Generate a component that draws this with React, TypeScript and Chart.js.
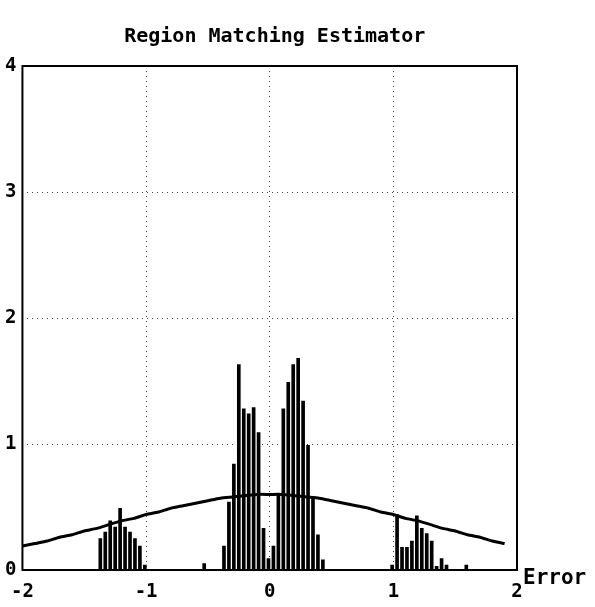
import React, { useEffect, useRef } from "react";
import { Chart, registerables } from "chart.js";

Chart.register(...registerables);

const TITLE = "Region Matching Estimator";
const X_LABEL = "Error";

const xTickValues = [-2, -1, 0, 1, 2];
const yTickValues = [0, 1, 2, 3, 4];

const curveX = [
  -2.0, -1.9, -1.8, -1.7, -1.6, -1.5, -1.4, -1.3, -1.2, -1.1, -1.0, -0.9, -0.8, -0.7, -0.6, -0.5, -0.4, -0.3, -0.2, -0.1,
  0.0, 0.1, 0.2, 0.3, 0.4, 0.5, 0.6, 0.7, 0.8, 0.9, 1.0, 1.1, 1.2, 1.3, 1.4, 1.5, 1.6, 1.7, 1.8, 1.9,
];
const curveY = [
  0.19, 0.21, 0.23, 0.26, 0.28, 0.31, 0.33, 0.36, 0.39, 0.41, 0.44, 0.46, 0.49, 0.51, 0.53, 0.55, 0.57, 0.58, 0.59, 0.6,
  0.6, 0.6, 0.59, 0.58, 0.57, 0.55, 0.53, 0.51, 0.49, 0.46, 0.44, 0.41, 0.39, 0.36, 0.33, 0.31, 0.28, 0.26, 0.23, 0.21,
];

const barX = [
  -1.37, -1.33, -1.29, -1.25, -1.21, -1.17, -1.13, -1.09, -1.05, -1.01,
  -0.53,
  -0.37, -0.33, -0.29, -0.25, -0.21, -0.17, -0.13, -0.09, -0.05, -0.01, 0.03, 0.07, 0.11, 0.15, 0.19, 0.23, 0.27, 0.31, 0.35, 0.39, 0.43,
  0.99, 1.03, 1.07, 1.11, 1.15, 1.19, 1.23, 1.27, 1.31, 1.35, 1.39, 1.43,
  1.59,
];
const barY = [
  0.25, 0.3, 0.39, 0.34, 0.49, 0.34, 0.3, 0.25, 0.19, 0.04,
  0.05,
  0.19, 0.54, 0.84, 1.63, 1.28, 1.24, 1.29, 1.09, 0.33, 0.09, 0.19, 0.6, 1.28, 1.49, 1.63, 1.68, 1.34, 0.99, 0.57, 0.28, 0.08,
  0.04, 0.44, 0.18, 0.18, 0.23, 0.43, 0.33, 0.29, 0.23, 0.03, 0.09, 0.04,
  0.04,
];

const FONT_FAMILY = '"DejaVu Sans Mono", monospace';

const framePlugin = {
  id: "frameAndText",
  afterDraw(chart: any) {
    const { ctx, chartArea } = chart;
    const { left, top, right, bottom } = chartArea;
    ctx.save();
    ctx.strokeStyle = "#000";
    ctx.lineWidth = 2;
    ctx.strokeRect(left, top, right - left, bottom - top);
    ctx.fillStyle = "#000";
    ctx.font = `bold 20px ${FONT_FAMILY}`;
    ctx.textAlign = "center";
    ctx.textBaseline = "alphabetic";
    ctx.fillText(TITLE, (left + right) / 2 + 5, top - 24);
    ctx.font = `bold 21px ${FONT_FAMILY}`;
    ctx.textAlign = "left";
    ctx.fillText(X_LABEL, right + 6, bottom + 14);
    ctx.restore();
  },
};

export default function App() {
  const canvasRef = useRef<HTMLCanvasElement | null>(null);

  useEffect(() => {
    if (!canvasRef.current) return;
    const chart = new Chart(canvasRef.current, {
      type: "bar",
      data: {
        datasets: [
          {
            type: "line",
            data: curveX.map((x, i) => ({ x, y: curveY[i] })),
            borderColor: "#000",
            borderWidth: 3,
            pointRadius: 0,
            tension: 0.2,
            fill: false,
            order: 0,
          } as any,
          {
            type: "bar",
            data: barX.map((x, i) => ({ x, y: barY[i] })),
            backgroundColor: "#000",
            borderWidth: 0,
            barThickness: 3,
            grouped: false,
            order: 1,
          } as any,
        ],
      },
      options: {
        animation: false,
        responsive: false,
        maintainAspectRatio: false,
        layout: { padding: { top: 66, right: 78, left: 0, bottom: 0 } },
        plugins: {
          legend: { display: false },
          title: { display: false },
          tooltip: { enabled: false },
        },
        scales: {
          x: {
            type: "linear",
            min: -2,
            max: 2,
            offset: false,
            afterBuildTicks: (scale: any) => {
              scale.ticks = xTickValues.map((v) => ({ value: v }));
            },
            afterFit: (scale: any) => {
              scale.height = 37;
            },
            grid: {
              offset: false,
              color: "#444",
              lineWidth: 1,
              drawTicks: false,
            },
            border: { display: false, dash: [1, 4] },
            ticks: {
              color: "#000",
              padding: 11,
              font: { family: FONT_FAMILY, size: 19, weight: "bold" },
              maxRotation: 0,
            },
          },
          y: {
            type: "linear",
            min: 0,
            max: 4,
            afterBuildTicks: (scale: any) => {
              scale.ticks = yTickValues.map((v) => ({ value: v }));
            },
            afterFit: (scale: any) => {
              scale.width = 18;
            },
            grid: {
              color: "#444",
              lineWidth: 1,
              drawTicks: false,
            },
            border: { display: false, dash: [1, 4] },
            ticks: {
              color: "#000",
              padding: 6,
              font: { family: FONT_FAMILY, size: 19, weight: "bold" },
            },
          },
        },
      } as any,
      plugins: [framePlugin],
    });
    return () => chart.destroy();
  }, []);

  return (
    <div style={{ position: "absolute", left: 0, top: 0, width: 595, height: 607, background: "#fff" }}>
      <canvas ref={canvasRef} width={595} height={607} style={{ width: 595, height: 607, display: "block" }} />
    </div>
  );
}
